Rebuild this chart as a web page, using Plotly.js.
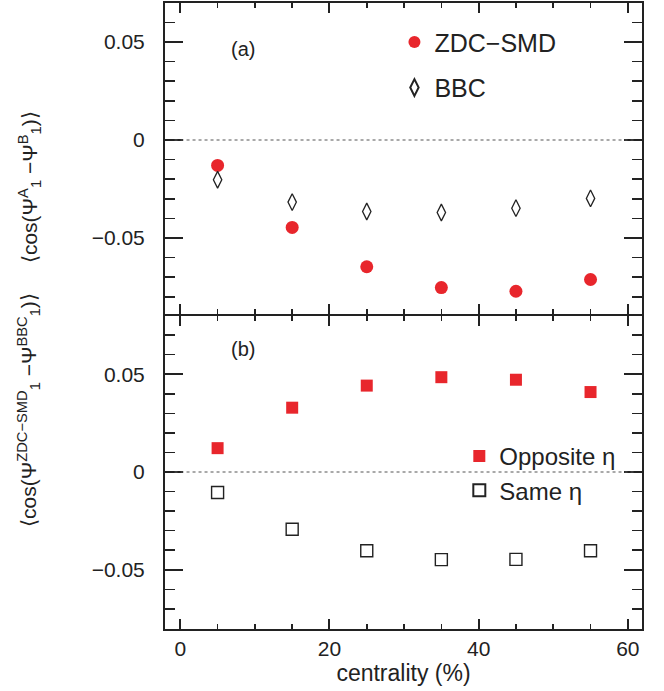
<!DOCTYPE html>
<html>
<head>
<meta charset="utf-8">
<script src="https://cdn.plot.ly/plotly-3.0.1.min.js"></script>
<style>html,body{margin:0;padding:0;background:#fff;}#chart{width:664px;height:691px;}</style>
</head>
<body>
<div id="chart"></div>
<script>
// centrality bin centers (%)
var centrality = [5, 15, 25, 35, 45, 55];
// panel (a)
var zdcSmd = [-0.0130, -0.0446, -0.0647, -0.0753, -0.0772, -0.0712];
var bbc = [-0.0203, -0.0317, -0.0365, -0.0370, -0.0348, -0.0298];
// panel (b)
var oppositeEta = [0.0122, 0.0329, 0.0442, 0.0485, 0.0472, 0.0409];
var sameEta = [-0.0105, -0.0293, -0.0403, -0.0448, -0.0447, -0.0403];

var RED = '#e8262c';
var INK = '#222222';
var FONT = 'Liberation Sans, Arial, Helvetica, sans-serif';

var traces = [
  {x: centrality, y: zdcSmd, xaxis: 'x2', yaxis: 'y2', type: 'scatter', mode: 'markers',
   name: 'ZDC\u2212SMD', legend: 'legend', legendgroup: 'a1',
   marker: {symbol: 'circle', size: 13, color: RED}},
  {x: centrality, y: bbc, xaxis: 'x2', yaxis: 'y2', type: 'scatter', mode: 'markers',
   name: 'BBC', legend: 'legend', legendgroup: 'a2',
   marker: {symbol: 'diamond-tall-open', size: 12, color: INK, line: {color: INK, width: 1.3}}},
  {x: centrality, y: oppositeEta, xaxis: 'x', yaxis: 'y', type: 'scatter', mode: 'markers',
   name: 'Opposite \u03b7', legend: 'legend2', legendgroup: 'b1',
   marker: {symbol: 'square', size: 12, color: RED}},
  {x: centrality, y: sameEta, xaxis: 'x', yaxis: 'y', type: 'scatter', mode: 'markers',
   name: 'Same \u03b7', legend: 'legend2', legendgroup: 'b2',
   marker: {symbol: 'square-open', size: 12, color: INK, line: {color: INK, width: 1.4}}}
];

var commonAxis = {
  showline: true, linecolor: INK, linewidth: 2, mirror: 'ticks',
  ticks: 'inside', tickcolor: INK, tickwidth: 2,
  showgrid: false, zeroline: false,
  tickfont: {family: FONT, size: 21, color: INK}
};

var layout = {
  width: 664, height: 691,
  margin: {l: 165, r: 22, t: 3, b: 62},
  paper_bgcolor: '#fff', plot_bgcolor: '#fff',
  font: {family: FONT, color: INK},
  xaxis: Object.assign({}, commonAxis, {
    range: [-2.05, 61.9], dtick: 20, tick0: 0, ticklen: 10, anchor: 'y',
    minor: {dtick: 5, ticks: 'inside', ticklen: 5, tickcolor: INK, tickwidth: 1.5},
    title: {text: 'centrality (%)', font: {family: FONT, size: 23, color: INK}, standoff: 6}
  }),
  xaxis2: Object.assign({}, commonAxis, {
    range: [-2.05, 61.9], dtick: 20, tick0: 0, ticklen: 10, anchor: 'y2', matches: 'x',
    showticklabels: false,
    minor: {dtick: 5, ticks: 'inside', ticklen: 5, tickcolor: INK, tickwidth: 1.5}
  }),
  yaxis: Object.assign({}, commonAxis, {
    domain: [0, 0.5], range: [-0.0803, 0.0798], dtick: 0.05, tick0: 0, ticklen: 18,
    ticklabelstandoff: 14, anchor: 'x',
    minor: {dtick: 0.01, ticks: 'inside', ticklen: 10, tickcolor: INK, tickwidth: 1.5}
  }),
  yaxis2: Object.assign({}, commonAxis, {
    domain: [0.5032, 1], range: [-0.0888, 0.0699], dtick: 0.05, tick0: 0, ticklen: 18,
    ticklabelstandoff: 14, anchor: 'x2',
    minor: {dtick: 0.01, ticks: 'inside', ticklen: 10, tickcolor: INK, tickwidth: 1.5}
  }),
  legend: {x: 0.481, y: 0.974, xanchor: 'left', yanchor: 'top', bgcolor: 'rgba(0,0,0,0)',
    font: {family: FONT, size: 25, color: INK}, tracegroupgap: 10, itemsizing: 'constant'},
  legend2: {x: 0.617, y: 0.3115, xanchor: 'left', yanchor: 'top', bgcolor: 'rgba(0,0,0,0)',
    font: {family: FONT, size: 24, color: INK}, tracegroupgap: 0, itemsizing: 'constant'},
  shapes: [
    {type: 'line', xref: 'x2 domain', yref: 'y2', x0: 0.02, x1: 0.985, y0: 0, y1: 0,
     line: {color: '#555', width: 1.2, dash: 'dot'}},
    {type: 'line', xref: 'x domain', yref: 'y', x0: 0.02, x1: 0.985, y0: 0, y1: 0,
     line: {color: '#555', width: 1.2, dash: 'dot'}}
  ],
  annotations: [
    {text: '(a)', xref: 'paper', yref: 'paper', x: 0.135, y: 0.947, showarrow: false,
     font: {family: FONT, size: 20, color: INK}},
    {text: '(b)', xref: 'paper', yref: 'paper', x: 0.135, y: 0.448, showarrow: false,
     font: {family: FONT, size: 20, color: INK}},
    {text: '\u27e8cos(\u03a8<sup>A</sup><sub>1</sub> \u2212\u03a8<sup>B</sup><sub>1</sub>)\u27e9',
     xref: 'paper', yref: 'paper', x: -0.285, y: 0.706, xanchor: 'center', yanchor: 'middle',
     textangle: -90, showarrow: false,
     font: {family: FONT, size: 21, color: INK}},
    {text: '\u27e8cos(\u03a8<sup>ZDC\u2212SMD</sup><sub>1</sub> \u2212\u03a8<sup>BBC</sup><sub>1</sub>)\u27e9',
     xref: 'paper', yref: 'paper', x: -0.285, y: 0.35, xanchor: 'center', yanchor: 'middle',
     textangle: -90, showarrow: false,
     font: {family: FONT, size: 21, color: INK}}
  ]
};

Plotly.newPlot('chart', traces, layout, {displayModeBar: false, staticPlot: true});
</script>
</body>
</html>
